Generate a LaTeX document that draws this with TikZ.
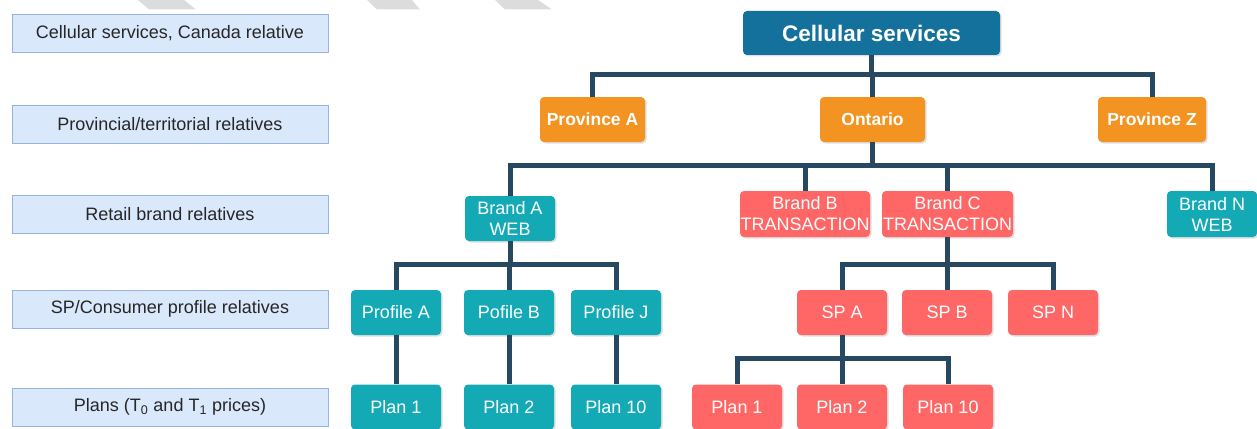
\documentclass[tikz,border=0pt]{standalone}
\usepackage{fontspec}
\setmainfont{Liberation Sans}
\usepackage{xcolor}
\usepackage{tikz}
\usetikzlibrary{shadows}

\definecolor{lvlfill}{RGB}{218,232,252}
\definecolor{lvldraw}{RGB}{150,180,225}
\definecolor{topblue}{RGB}{19,113,155}
\definecolor{provorange}{RGB}{242,147,34}
\definecolor{webteal}{RGB}{20,170,181}
\definecolor{txnred}{RGB}{255,102,102}
\definecolor{linknavy}{RGB}{38,72,96}
\definecolor{stripegray}{RGB}{220,220,220}

\begin{document}
\begin{tikzpicture}[x=1pt,y=-1pt,
	lvl/.style={draw=lvldraw,line width=0.8pt,fill=lvlfill,minimum width=316pt,minimum height=38pt,inner sep=0pt,text=black!85,font=\fontsize{18}{21}\selectfont},
	box/.style={rounded corners=4pt,inner sep=0pt,text=white,align=center,minimum height=45pt,drop shadow={opacity=0.25,shadow xshift=1.5pt,shadow yshift=-1.5pt},font=\fontsize{18}{21}\selectfont},
	rootbox/.style={box,fill=topblue,minimum width=257pt,minimum height=44pt,font=\fontsize{22.5}{26}\selectfont\bfseries},
	provbox/.style={box,fill=provorange,minimum width=105pt,font=\fontsize{17.5}{20}\selectfont\bfseries},
	webbox/.style={box,fill=webteal,minimum width=90pt},
	txnbox/.style={box,fill=txnred,minimum width=90pt},
	link/.style={draw=linknavy,line width=5pt}]
	\useasboundingbox (0,0) rectangle (1257,428);
	% watermark stripes
	\fill [stripegray] (138,0) -- (184,0) -- (196,9.5) -- (149,9.5) -- cycle;
	\fill [stripegray] (367,0) -- (412,0) -- (420,9.5) -- (377,9.5) -- cycle;
	\fill [stripegray] (495,0) -- (538,0) -- (552,9.5) -- (505,9.5) -- cycle;
	% level labels
	\node [lvl] (l1) at (170,33) {Cellular services, Canada relative};
	\node [lvl] (l2) at (170,124) {Provincial/territorial relatives};
	\node [lvl] (l3) at (170,214) {Retail brand relatives};
	\node [lvl] (l4) at (170,309) {SP/Consumer profile relatives};
	\node [lvl] (l5) at (170,407) {Plans (T\textsubscript{0} and T\textsubscript{1} prices)};
	% tree
	\node [rootbox] (cell) at (871.5,33) {Cellular services};
	\node [provbox] (provA) at (592.5,119.5) {Province A};
	\node [provbox] (ont) at (872.5,119.5) {Ontario};
	\node [provbox,minimum width=108pt] (provZ) at (1152,119.5) {Province Z};
	\node [webbox] (brandA) at (510,218.5) {Brand A\\WEB};
	\node [txnbox,minimum width=130pt,minimum height=46pt] (brandB) at (805,214) {Brand B\\TRANSACTION};
	\node [txnbox,minimum width=131pt,minimum height=46pt] (brandC) at (947.5,214) {Brand C\\TRANSACTION};
	\node [webbox,minimum height=46pt] (brandN) at (1212,214) {Brand N\\WEB};
	\node [webbox] (profA) at (396,312.5) {Profile A};
	\node [webbox] (profB) at (509,312.5) {Pofile B};
	\node [webbox] (profJ) at (616,312.5) {Profile J};
	\node [txnbox] (spA) at (842,312.5) {SP A};
	\node [txnbox] (spB) at (947,312.5) {SP B};
	\node [txnbox] (spN) at (1053,312.5) {SP N};
	\node [webbox] (wplan1) at (396,407) {Plan 1};
	\node [webbox] (wplan2) at (509,407) {Plan 2};
	\node [webbox] (wplan10) at (616,407) {Plan 10};
	\node [txnbox] (tplan1) at (737,407) {Plan 1};
	\node [txnbox] (tplan2) at (842,407) {Plan 2};
	\node [txnbox] (tplan10) at (948,407) {Plan 10};
	% connectors
	\coordinate (j1) at (871.5,74);
	\coordinate (j2) at (872.5,165);
	\coordinate (j3) at (510,264);
	\coordinate (j4) at (947.5,264);
	\coordinate (j5) at (842,358);
	\draw [link] (cell.south) -- (j1);
	\draw [link] (j1) -| (provA.north);
	\draw [link] (j1) -| (provZ.north);
	\draw [link] (j1) -| (ont.north);
	\draw [link] (ont.south) -- (j2);
	\draw [link] (j2) -| (brandA.north);
	\draw [link] (j2) -| (brandB.north);
	\draw [link] (j2) -| (brandC.north);
	\draw [link] (j2) -| (brandN.north);
	\draw [link] (brandA.south) -- (j3);
	\draw [link] (j3) -| (profA.north);
	\draw [link] (j3) -| (profB.north);
	\draw [link] (j3) -| (profJ.north);
	\draw [link] (brandC.south) -- (j4);
	\draw [link] (j4) -| (spA.north);
	\draw [link] (j4) -| (spB.north);
	\draw [link] (j4) -| (spN.north);
	\draw [link] (profA.south) -- (wplan1.north);
	\draw [link] (profB.south) -- (wplan2.north);
	\draw [link] (profJ.south) -- (wplan10.north);
	\draw [link] (spA.south) -- (j5);
	\draw [link] (j5) -| (tplan1.north);
	\draw [link] (j5) -| (tplan2.north);
	\draw [link] (j5) -| (tplan10.north);
\end{tikzpicture}
\end{document}
